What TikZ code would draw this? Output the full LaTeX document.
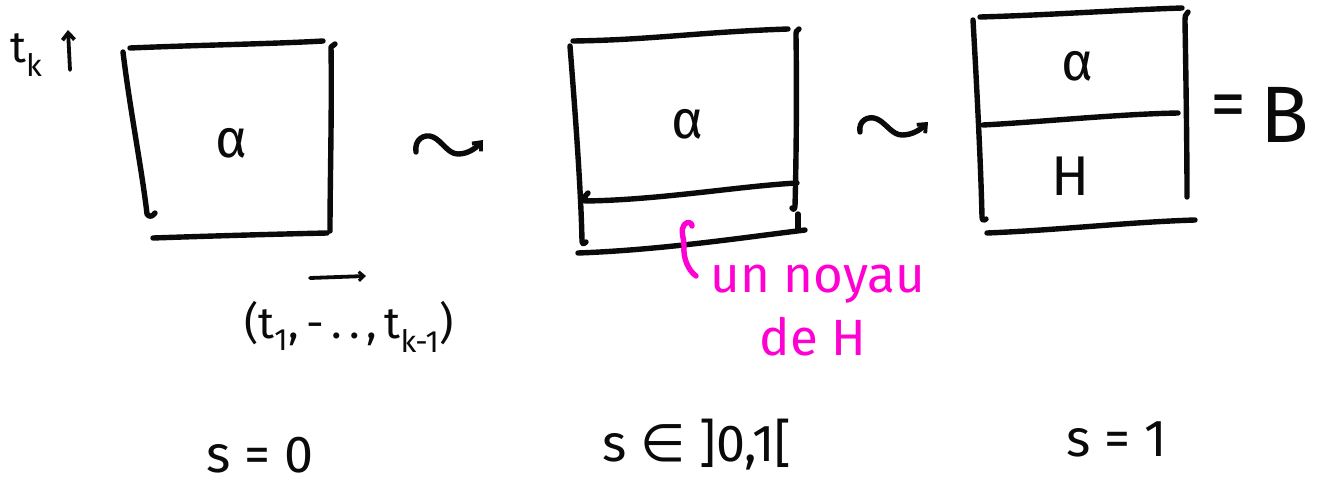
\documentclass[tikz,border=0pt]{standalone}
\usepackage{fontspec}
\setmainfont{Fira Sans}
\newfontfamily\symfont{DejaVu Sans}
\usetikzlibrary{arrows.meta}
\definecolor{ink}{RGB}{10,10,10}
\definecolor{pinkink}{RGB}{255,0,210}
\tikzset{
  pen/.style={draw=ink,line width=5.4pt,line cap=round,line join=round},
  thinpen/.style={draw=ink,line width=3.8pt,line cap=round,line join=round},
  pinkpen/.style={draw=pinkink,line width=5.4pt,line cap=round,line join=round},
  txt/.style={text=ink,inner sep=0pt},
  greek/.style={txt,font=\fontsize{54}{56}\selectfont},
  bigletter/.style={txt,font=\fontsize{56}{58}\selectfont},
  value/.style={txt,font=\fontsize{52}{54}\selectfont,anchor=base,text depth=0pt},
  note/.style={text=pinkink,inner sep=0pt,font=\fontsize{51}{53}\selectfont},
  barb/.style={-{Straight Barb[length=7pt,width=12pt,line width=3.8pt]}},
}
\begin{document}
\begin{tikzpicture}[x=1pt,y=-1pt]
\useasboundingbox (0,0) rectangle (1319,485);

% ---- first box (s = 0)
\coordinate (a1) at (130,48);  \coordinate (a2) at (323,41);
\coordinate (a4) at (330,231);
\coordinate (a5) at (153,238); \coordinate (a6) at (327,233);
\draw[pen] (a1) .. controls (200,45) and (270,44) .. (a2);
\draw[pen] (335,44) -- (331,47) .. controls (332,110) and (330,180) .. (a4);
\draw[pen] (a5) .. controls (210,236) and (280,234) .. (a6);
\draw[pen] (123,52) .. controls (130,110) and (142,170) .. (147,214)
           .. controls (149,218) and (153,216) .. (155,213);
\node[greek] (alpha1) at (232,143) {α};

% ---- first transition (wavy arrow)
\coordinate (w1) at (416,152); \coordinate (w2) at (483,140);
\draw[pen,barb] (w1) .. controls (414,140) and (424,133) .. (433,137)
              .. controls (442,141) and (448,154) .. (458,154)
              .. controls (468,154) and (476,148) .. (w2);

% ---- second box (s in ]0,1[)
\coordinate (b1) at (573,41);  \coordinate (b2) at (788,29);
\coordinate (b7) at (585,201); \coordinate (b8) at (797,183);
\coordinate (b5) at (578,253); \coordinate (b6) at (805,230);
\draw[pen] (b1) .. controls (650,40) and (700,32) .. (b2);
\draw[pen] (570,46) .. controls (575,110) and (581,190) .. (582,241)
           .. controls (582,245) and (585,244) .. (586,242);
\draw[pen] (799,29) .. controls (796,30) and (796,32) .. (796,36)
           .. controls (797,100) and (796,170) .. (795,206)
           .. controls (795,210) and (792,210) .. (792,208);
\draw[pen] (798,214) -- (798,230);
\draw[pen] (588,193) .. controls (585,194) and (585,197) .. (b7)
           .. controls (660,200) and (740,186) .. (b8);
\draw[pen] (b5) .. controls (660,250) and (740,238) .. (b6);
\node[greek] (alpha2) at (688,124) {α};

% ---- second transition (wavy arrow)
\coordinate (w3) at (860,132); \coordinate (w4) at (928,122);
\draw[pen,barb] (w3) .. controls (858,121) and (868,115) .. (877,119)
              .. controls (886,123) and (892,135) .. (902,135)
              .. controls (912,135) and (920,130) .. (w4);

% ---- third box (s = 1)
\coordinate (c1) at (980,17);   \coordinate (c2) at (1182,8);
\coordinate (c7) at (983,125);  \coordinate (c8) at (1178,113);
\coordinate (c5) at (987,233);  \coordinate (c6) at (1195,220);
\draw[pen] (c1) .. controls (1050,15) and (1120,10) .. (c2);
\draw[pen] (973,20) .. controls (977,90) and (981,170) .. (982,217)
           .. controls (982,221) and (985,221) .. (986,219);
\draw[pen] (1188,12) .. controls (1185,14) and (1185,17) .. (1185,22)
           .. controls (1186,80) and (1187,150) .. (1187,197);
\draw[pen] (c7) .. controls (1040,122) and (1120,114) .. (c8);
\draw[pen] (c5) .. controls (1060,230) and (1130,222) .. (c6);
\node[greek] (alpha3) at (1077,66) {α};
\node[bigletter] (H3) at (1071,176) {H};
\node[txt,font=\fontsize{72}{74}\selectfont] (eq) at (1228,112) {=};
\node[txt,font=\fontsize{80}{82}\selectfont] (B) at (1285,115) {B};

% ---- direction of the coordinates
\node[txt,font=\fontsize{44}{46}\selectfont,anchor=base west] (tk) at (10,62) {t\textsubscript{k}};
\coordinate (u1) at (70,70); \coordinate (u2) at (68,30);
\draw[thinpen,barb] (u1) -- (u2);
\coordinate (p1) at (310,278); \coordinate (p2) at (366,276);
\draw[thinpen,-{Straight Barb[length=5pt,width=9pt,line width=3pt]}] (p1) -- (p2);
\node[txt,font=\fontsize{44}{46}\selectfont] (tuple) at (349,327)
  {(t\textsubscript{1},\,-\,.\,.\,,\,t\textsubscript{k-1})};

% ---- pink remark
\coordinate (m1) at (696,276); \coordinate (m2) at (692,226);
\draw[pinkpen] (m1) .. controls (688,270) and (683,258) .. (684,246)
       .. controls (684,238) and (680,230) .. (684,225)
       .. controls (687,221) and (692,222) .. (m2);
\node[note] (noyau) at (818,284) {un noyau};
\node[note] (deH) at (813,337) {de H};

% ---- parameter values
\node[value] (s0) at (260,472) {s = 0};
\node[value] (s01) at (697,461) {s {\symfont ∈} ]0,1[};
\node[value] (s1) at (1117,456) {s = 1};
\end{tikzpicture}
\end{document}
